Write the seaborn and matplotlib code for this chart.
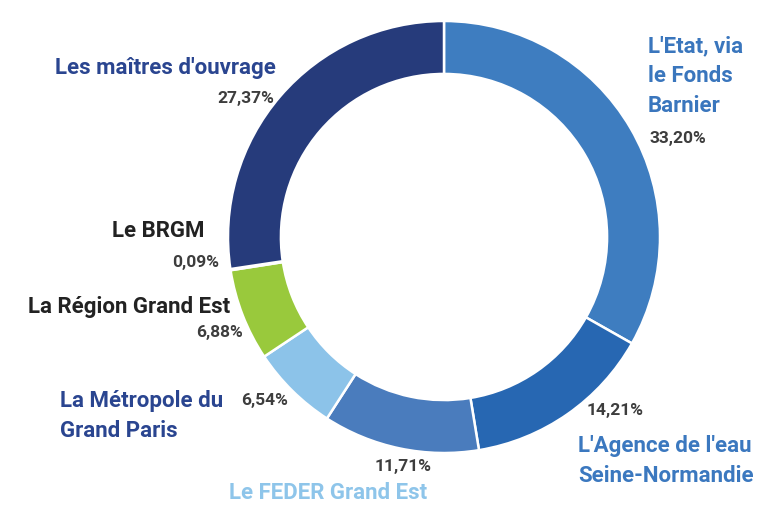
from matplotlib import pyplot as plt
import seaborn as sns

sns.set_theme(style="white")
plt.rcParams['font.family'] = ['Roboto', 'DejaVu Sans']

labels = ["L'Etat, via\nle Fonds\nBarnier", "L'Agence de l'eau\nSeine-Normandie", "Le FEDER Grand Est",
          "La Métropole du\nGrand Paris", "La Région Grand Est", "Le BRGM", "Les maîtres d'ouvrage"]
shares = [33.20, 14.21, 11.71, 6.54, 6.88, 0.09, 27.37]
pct_text = ["33,20%", "14,21%", "11,71%", "6,54%", "6,88%", "0,09%", "27,37%"]
colors = ["#3e7dc0", "#2767b2", "#4a7cbd", "#8cc3e9", "#99c93c", "#5a7fb8", "#263b7b"]
label_colors = ["#3a76bd", "#3b78bf", "#8ec5ea", "#2a4590", "#222222", "#222222", "#2a4590"]

W, H = 764, 505
fig = plt.figure(figsize=(W / 100, H / 100), dpi=100)
ax = fig.add_axes([0, 0, 1, 1])
ax.set_xlim(0, W)
ax.set_ylim(0, H)
ax.set_aspect('equal')
ax.axis('off')

cx, cy, r = 444, H - 237, 216
ax.pie(shares, colors=colors, startangle=90, counterclock=False, center=(cx, cy), radius=r,
       wedgeprops=dict(width=r * 0.245, edgecolor='white', linewidth=1.8))
ax.set_xlim(0, W)
ax.set_ylim(0, H)

# label placement in pixel coords (x, y_top_down, ha)
name_pos = [(648, 76, 'left'), (578, 461, 'left'), (229, 493, 'left'), (60, 416, 'left'),
            (230, 307, 'right'), (205, 231, 'right'), (276, 68, 'right')]
pct_pos = [(650, 138, 'left'), (587, 411, 'left'), (375, 466, 'left'), (241, 400, 'left'),
           (243, 333, 'right'), (219, 262, 'right'), (274, 98, 'right')]

for lab, col, (x, y, ha) in zip(labels, label_colors, name_pos):
    ax.text(x, H - y, lab, ha=ha, va='center', fontsize=16, fontweight='bold', color=col,
            linespacing=1.45)
for p, (x, y, ha) in zip(pct_text, pct_pos):
    ax.text(x, H - y, p, ha=ha, va='center', fontsize=12.5, fontweight='bold', color='#3d3d3d')

plt.savefig('out.png', dpi=100, facecolor='white')
